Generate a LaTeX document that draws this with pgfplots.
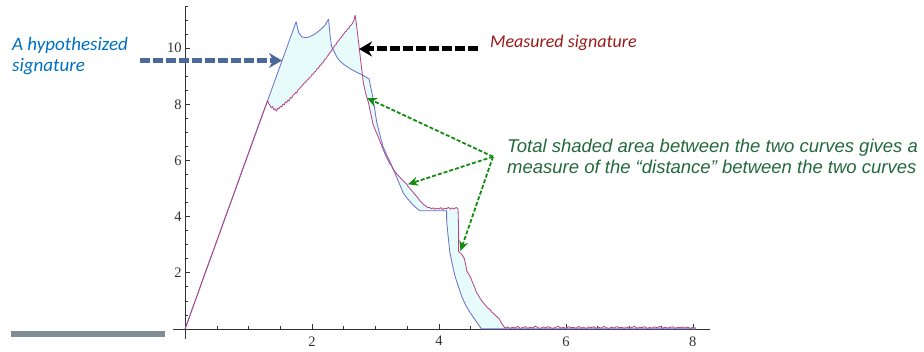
\documentclass[border=0pt]{standalone}
\usepackage{fontspec}
\setmainfont{Liberation Serif}
\newfontfamily\calibri{Carlito}
\newfontfamily\arial{Liberation Sans}
\usepackage{pgfplots}
\usepackage{pgfplotstable}
\pgfplotsset{compat=1.18}
\usepgfplotslibrary{fillbetween}
\usetikzlibrary{arrows.meta}
\definecolor{hypblue}{RGB}{110,115,205}
\definecolor{measred}{RGB}{178,72,138}
\definecolor{shade}{RGB}{232,251,251}
\definecolor{txtblue}{RGB}{0,112,192}
\definecolor{txtred}{RGB}{155,25,25}
\definecolor{txtgreen}{RGB}{35,105,60}
\definecolor{arrblue}{RGB}{75,105,155}
\definecolor{arrgreen}{RGB}{20,140,20}
\definecolor{barcol}{RGB}{128,140,150}
\definecolor{axcol}{RGB}{50,50,50}

\pgfplotstableread{
x y
0 0
1.75 10.94
1.79 10.55
1.84 10.40
1.90 10.37
1.96 10.40
2.02 10.47
2.08 10.56
2.14 10.67
2.20 10.80
2.26 11.03
2.29 10.35
2.31 10.05
2.36 9.82
2.40 9.65
2.44 9.54
2.50 9.42
2.56 9.33
2.62 9.24
2.68 9.17
2.76 9.08
2.84 8.98
2.90 8.90
2.93 8.55
2.97 8.10
3.02 7.35
3.09 6.73
3.12 6.49
3.18 6.18
3.23 5.95
3.28 5.68
3.33 5.42
3.38 5.15
3.44 4.83
3.50 4.65
3.57 4.47
3.63 4.33
3.70 4.21
4.12 4.21
4.12 3.90
4.14 3.40
4.17 2.75
4.21 2.30
4.25 1.90
4.30 1.55
4.36 1.15
4.42 0.85
4.49 0.58
4.57 0.32
4.67 0.0
8.05 0.0
}\hyp

\pgfplotstableread{
x y
0 0
0.05 0.30
0.10 0.63
0.20 1.25
0.30 1.90
0.45 2.82
0.60 3.77
0.75 4.70
0.90 5.65
1.05 6.58
1.20 7.52
1.30 8.13
1.32 8.02
1.34 7.95
1.36 7.88
1.38 7.92
1.40 7.80
1.42 7.84
1.44 7.76
1.46 7.86
1.48 7.84
1.50 7.93
1.52 7.90
1.54 8.00
1.56 7.98
1.58 8.08
1.60 8.06
1.62 8.15
1.64 8.12
1.66 8.24
1.68 8.22
1.70 8.33
1.72 8.35
1.74 8.42
1.76 8.40
1.78 8.52
1.80 8.55
1.82 8.60
1.84 8.66
1.86 8.70
1.88 8.76
1.90 8.78
1.92 8.86
1.94 8.88
1.96 8.95
1.98 8.97
2.00 9.06
2.02 9.08
2.04 9.15
2.06 9.18
2.08 9.27
2.10 9.28
2.12 9.37
2.14 9.40
2.16 9.47
2.18 9.50
2.20 9.60
2.22 9.62
2.24 9.71
2.26 9.75
2.28 9.84
2.30 9.88
2.32 9.97
2.34 10.02
2.36 10.10
2.38 10.13
2.40 10.23
2.42 10.26
2.44 10.34
2.46 10.38
2.48 10.45
2.50 10.50
2.52 10.58
2.54 10.60
2.56 10.68
2.58 10.70
2.60 10.80
2.62 10.82
2.64 10.90
2.66 10.98
2.67 11.08
2.68 11.17
2.70 10.85
2.73 10.28
2.77 9.50
2.81 8.74
2.85 8.35
2.89 8.05
2.93 7.62
2.96 7.30
2.99 7.12
3.02 6.96
3.05 6.80
3.08 6.62
3.10 6.52
3.13 6.35
3.16 6.18
3.19 6.05
3.22 5.90
3.25 5.82
3.28 5.68
3.31 5.60
3.34 5.50
3.37 5.44
3.40 5.36
3.43 5.30
3.46 5.22
3.49 5.16
3.52 5.05
3.55 4.98
3.58 4.90
3.61 4.82
3.64 4.74
3.67 4.66
3.70 4.56
3.73 4.50
3.76 4.42
3.79 4.38
3.82 4.32
3.85 4.33
3.88 4.28
3.91 4.31
3.94 4.26
3.97 4.30
4.00 4.27
4.03 4.32
4.06 4.25
4.09 4.30
4.12 4.28
4.15 4.33
4.18 4.26
4.21 4.31
4.24 4.27
4.27 4.33
4.30 4.28
4.31 3.50
4.31 2.75
4.34 2.70
4.37 2.62
4.40 2.50
4.42 2.30
4.44 2.05
4.47 1.95
4.50 1.82
4.53 1.65
4.56 1.50
4.59 1.30
4.62 1.20
4.65 1.08
4.68 0.98
4.71 0.90
4.74 0.82
4.77 0.74
4.80 0.70
4.83 0.60
4.86 0.55
4.89 0.48
4.92 0.42
4.95 0.36
4.98 0.22
5.01 0.12
5.04 0.03
5.08 0.07
5.12 0.02
5.16 0.06
5.20 0.03
5.24 0.09
5.28 0.02
5.32 0.05
5.36 0.08
5.40 0.02
5.44 0.06
5.48 0.03
5.52 0.10
5.56 0.04
5.60 0.02
5.64 0.07
5.68 0.03
5.72 0.08
5.76 0.04
5.80 0.02
5.84 0.06
5.88 0.09
5.92 0.03
5.96 0.05
6.00 0.02
6.04 0.08
6.08 0.04
6.12 0.06
6.16 0.02
6.20 0.09
6.24 0.03
6.28 0.05
6.32 0.02
6.36 0.07
6.40 0.04
6.44 0.08
6.48 0.02
6.52 0.05
6.56 0.03
6.60 0.09
6.64 0.04
6.68 0.02
6.72 0.06
6.76 0.03
6.80 0.08
6.84 0.04
6.88 0.06
6.92 0.02
6.96 0.07
7.00 0.03
7.04 0.05
7.08 0.09
7.12 0.02
7.16 0.06
7.20 0.04
7.24 0.08
7.28 0.02
7.32 0.05
7.36 0.03
7.40 0.07
7.44 0.04
7.48 0.09
7.52 0.02
7.56 0.06
7.60 0.03
7.64 0.05
7.68 0.08
7.72 0.02
7.76 0.06
7.80 0.04
7.84 0.07
7.88 0.03
7.92 0.06
7.96 0.02
8.00 0.05
8.05 0.03
}\meas

\begin{document}
\begin{tikzpicture}
\begin{axis}[
  scale only axis, width=537pt, height=333pt,
  anchor=south west, at={(173pt,12pt)},
  xmin=-0.19, xmax=8.27, ymin=-0.36, ymax=11.5,
  axis lines=middle, axis line style={-,axcol,line width=0.7pt},
  xtick={2,4,6,8}, ytick={2,4,6,8,10},
  minor xtick={0.5,1,...,8}, minor ytick={0.5,1,...,11.5},
  tick align=inside, major tick length=5pt, minor tick length=2.5pt,
  tick style={axcol,line width=0.6pt},
  /pgf/number format/assume math mode=true,
  ticklabel style={font=\fontsize{14.5}{14.5}\selectfont, text=axcol},
  xticklabel style={anchor=north, yshift=-4pt},
  yticklabel style={anchor=east, xshift=0pt},
  clip=false,
]
\addplot[draw=none, name path=hyp, forget plot] table[x=x,y=y] {\hyp};
\addplot[draw=none, name path=meas, forget plot] table[x=x,y=y] {\meas};
\addplot[fill=shade, draw=none] fill between[of=hyp and meas];
\addplot[hypblue, line width=0.85pt, line join=round] table[x=x,y=y] {\hyp};
\addplot[measred, line width=0.85pt, line join=round] table[x=x,y=y] {\meas};
\end{axis}

% annotations (pixel coordinates, y measured from bottom)
\fill[barcol] (11pt,13.7pt) rectangle (165pt,20pt);

\draw[arrblue, line width=5pt, dash pattern=on 10pt off 3pt,
  -{Stealth[length=13pt,width=15pt]}] (140pt,290.5pt) -- (282pt,290.5pt);
\draw[black, line width=5pt, dash pattern=on 10pt off 3pt,
  -{Stealth[length=13pt,width=15pt]}] (478pt,302pt) -- (359pt,302pt);

\begin{scope}[arrgreen, line width=1.8pt, dash pattern=on 4pt off 2pt]
\draw[-{Stealth[length=10pt,width=9pt]}] (493pt,194.3pt) -- (367pt,253pt);
\draw[-{Stealth[length=10pt,width=9pt]}] (493pt,194.3pt) -- (408pt,166.7pt);
\draw[-{Stealth[length=10pt,width=9pt]}] (493pt,194.3pt) -- (460.5pt,100pt);
\end{scope}

\node[anchor=base west, inner sep=0pt, text=txtblue,
  font=\calibri\itshape\fontsize{19}{23}\selectfont] at (12pt,300.3pt) {A hypothesized};
\node[anchor=base west, inner sep=0pt, text=txtblue,
  font=\calibri\itshape\fontsize{19}{23}\selectfont] at (12pt,279pt) {signature};
\node[anchor=base west, inner sep=0pt, text=txtred,
  font=\calibri\itshape\fontsize{18}{22}\selectfont] at (490pt,303.7pt) {Measured signature};
\node[anchor=base west, inner sep=0pt, text=txtgreen,
  font=\arial\itshape\fontsize{18.5}{22}\selectfont] at (507pt,198.3pt) {Total shaded area between the two curves gives a};
\node[anchor=base west, inner sep=0pt, text=txtgreen,
  font=\arial\itshape\fontsize{18.5}{22}\selectfont] at (507pt,177.7pt) {measure of the “distance” between the two curves};
\pgfresetboundingbox
\path[use as bounding box] (0,0) rectangle (924pt,351pt);
\end{tikzpicture}
\end{document}
